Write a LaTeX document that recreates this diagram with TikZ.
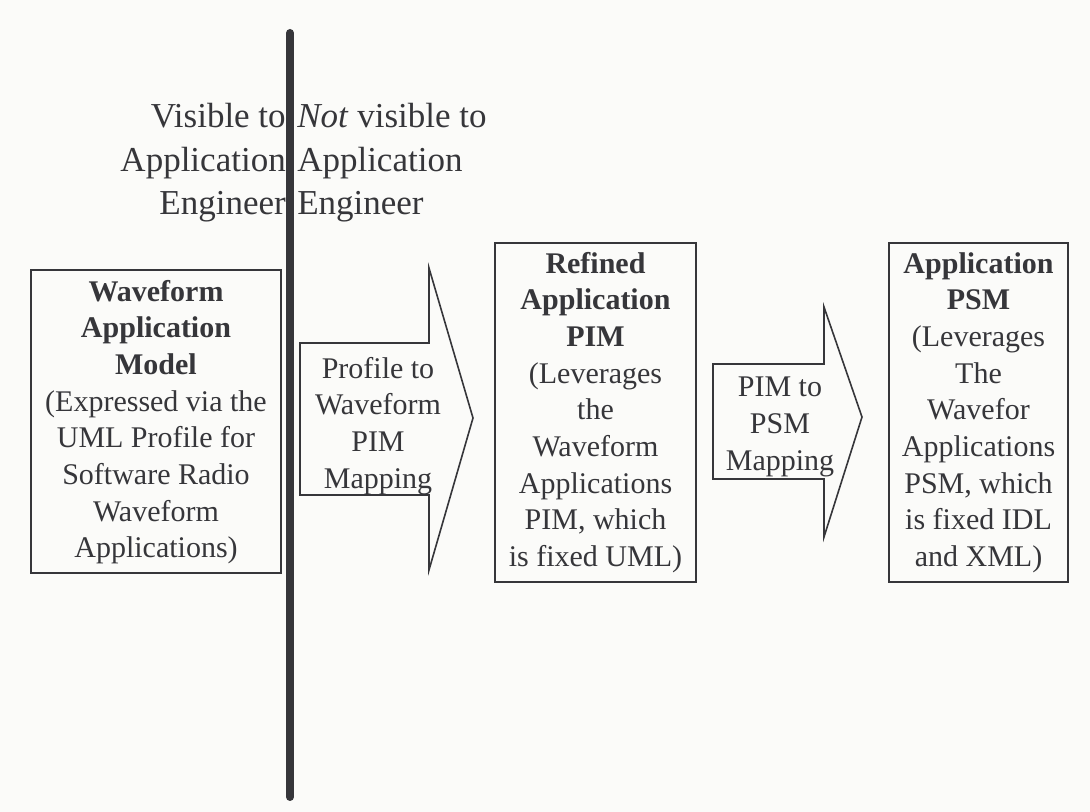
\documentclass[tikz,border=0pt]{standalone}
\usepackage{fontspec}
\setmainfont{Liberation Serif}
\definecolor{ink}{HTML}{36363A}
\definecolor{paper}{HTML}{FBFBF9}
\begin{document}
\begin{tikzpicture}[x=0.75pt,y=-0.75pt,
  boxtext/.style={draw=ink,line width=1.5pt,text=ink,align=flush center,inner xsep=4pt,inner ysep=0pt,
    font=\fontsize{22.5}{27.5}\selectfont},
  arrowshape/.style={draw=ink,line width=1.2pt},
  arrowtext/.style={text=ink,align=flush center,inner sep=0pt,font=\fontsize{22.5}{27.5}\selectfont},
  headtext/.style={text=ink,inner sep=0pt,font=\fontsize{26.25}{32.6}\selectfont}]
\fill[paper] (0,0) rectangle (1090,812);
\useasboundingbox (0,0) rectangle (1090,812);

% divider
\coordinate (divtop) at (290,33);
\coordinate (divbot) at (290,797);
\draw[ink,line width=6pt,line cap=round] (divtop) -- (divbot);

% headings
\node[headtext,align=right,anchor=east] (vis) at (286,163) {Visible to\\Application\\Engineer};
\node[headtext,align=left,anchor=west] (notvis) at (297,163) {\textit{Not} visible to\\Application\\Engineer};

% boxes
\node[boxtext,text width=179.5pt,minimum height=227.25pt] (wam) at (156,422)
  {\textbf{Waveform}\\\textbf{Application}\\\textbf{Model}\\(Expressed via the\\UML Profile for\\Software Radio\\Waveform\\Applications)};
\node[boxtext,text width=142.75pt,minimum height=254.25pt] (pim) at (595.5,412.5)
  {\textbf{Refined}\\\textbf{Application}\\\textbf{PIM}\\(Leverages\\the\\Waveform\\Applications\\PIM, which\\is fixed UML)};
\node[boxtext,text width=126.25pt,minimum height=254.25pt] (psm) at (978.5,412.5)
  {\textbf{Application}\\\textbf{PSM}\\(Leverages\\The\\Wavefor\\Applications\\PSM, which\\is fixed IDL\\and XML)};

% block arrows
\draw[arrowshape] (300,343) -- (429,343) -- (429,268) -- (473,418) -- (429,570) -- (429,495) -- (300,495) -- cycle;
\node[arrowtext] (map1) at (378,426) {Profile to\\Waveform\\PIM\\Mapping};
\draw[arrowshape] (713,364) -- (824,364) -- (824,307) -- (862,417) -- (824,537) -- (824,479) -- (713,479) -- cycle;
\node[arrowtext] (map2) at (780,427) {PIM to\\PSM\\Mapping};
\end{tikzpicture}
\end{document}
